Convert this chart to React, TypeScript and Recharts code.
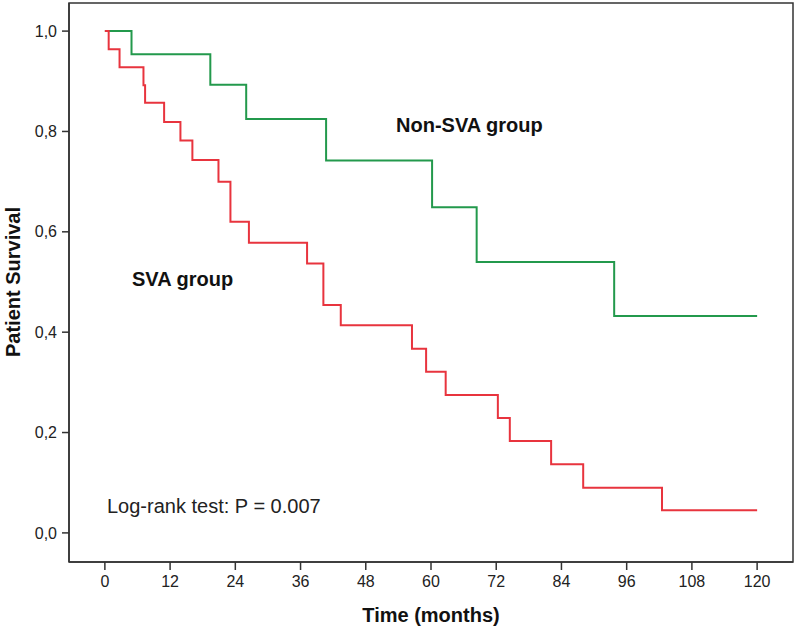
import { LineChart, Line, XAxis, YAxis, ReferenceArea } from 'recharts';

// Kaplan-Meier steps
const nonSvaTimes = [0, 4.9, 19.4, 26.0, 40.7, 60.2, 68.4, 93.7, 120];
const nonSvaSurvival = [1.0, 0.954, 0.893, 0.825, 0.742, 0.649, 0.54, 0.432, 0.432];

const svaTimes = [0, 0.7, 2.7, 7.1, 7.4, 10.9, 13.9, 16.1, 20.9, 23.1, 26.5, 37.2, 40.2, 43.4, 56.5, 59.1, 62.7, 72.3, 74.5, 82.1, 88.0, 102.5, 120];
const svaSurvival = [1.0, 0.964, 0.928, 0.892, 0.857, 0.819, 0.782, 0.743, 0.7, 0.62, 0.578, 0.537, 0.454, 0.414, 0.367, 0.321, 0.275, 0.229, 0.183, 0.137, 0.09, 0.045, 0.045];

const xTicks = [0, 12, 24, 36, 48, 60, 72, 84, 96, 108, 120];
const yTicks = [0, 0.2, 0.4, 0.6, 0.8, 1.0];

const X_DOMAIN: [number, number] = [-6.6, 126.6];
const Y_DOMAIN: [number, number] = [-0.058, 1.056];

const nonSvaData = nonSvaTimes.map((t, i) => ({ t, s: nonSvaSurvival[i] }));
const svaData = svaTimes.map((t, i) => ({ t, s: svaSurvival[i] }));

const FONT = '"Liberation Sans", Arial, sans-serif';
const AXIS = '#333';

export default function App() {
  return (
    <div style={{ position: 'absolute', left: 0, top: 0, width: 797, height: 628, background: '#fff', fontFamily: FONT }}>
      <LineChart width={797} height={628} margin={{ top: 3, right: 4, bottom: 0, left: 0 }}>
        <XAxis
          type="number"
          dataKey="t"
          domain={X_DOMAIN}
          ticks={xTicks}
          allowDataOverflow
          height={66}
          tickSize={8}
          tickMargin={6}
          stroke={AXIS}
          tick={{ fill: '#222', fontSize: 16, fontFamily: FONT }}
          tickLine={{ stroke: AXIS, strokeWidth: 1.5 }}
          axisLine={{ stroke: AXIS, strokeWidth: 1.5 }}
        />
        <YAxis
          type="number"
          dataKey="s"
          domain={Y_DOMAIN}
          ticks={yTicks}
          allowDataOverflow
          width={69}
          tickSize={7}
          tickMargin={5}
          stroke={AXIS}
          tickFormatter={(v: number) => v.toFixed(1).replace('.', ',')}
          tick={{ fill: '#222', fontSize: 16, fontFamily: FONT }}
          tickLine={{ stroke: AXIS, strokeWidth: 1.5 }}
          axisLine={{ stroke: AXIS, strokeWidth: 1.5 }}
        />
        <ReferenceArea x1={X_DOMAIN[0]} x2={X_DOMAIN[1]} y1={Y_DOMAIN[0]} y2={Y_DOMAIN[1]} fill="none" stroke={AXIS} strokeWidth={1.5} />
        <Line
          data={nonSvaData}
          dataKey="s"
          type="stepAfter"
          stroke="#23994c"
          strokeWidth={2}
          dot={false}
          isAnimationActive={false}
        />
        <Line
          data={svaData}
          dataKey="s"
          type="stepAfter"
          stroke="#e8343e"
          strokeWidth={2}
          dot={false}
          isAnimationActive={false}
        />
      </LineChart>
      <svg width={797} height={628} style={{ position: 'absolute', left: 0, top: 0, pointerEvents: 'none' }}>
        <text x={396} y={132} fontSize={20} fontWeight="bold" fill="#111" fontFamily={FONT}>Non-SVA group</text>
        <text x={132} y={286} fontSize={20} fontWeight="bold" fill="#111" fontFamily={FONT}>SVA group</text>
        <text x={107} y={513} fontSize={20} fill="#222" fontFamily={FONT}>Log-rank test: P = 0.007</text>
        <text x={431} y={622} fontSize={20} fontWeight="bold" fill="#111" textAnchor="middle" fontFamily={FONT}>Time (months)</text>
        <text x={19.5} y={282} fontSize={20} fontWeight="bold" fill="#111" textAnchor="middle" fontFamily={FONT} transform="rotate(-90 19.5 282)">Patient Survival</text>
      </svg>
    </div>
  );
}
